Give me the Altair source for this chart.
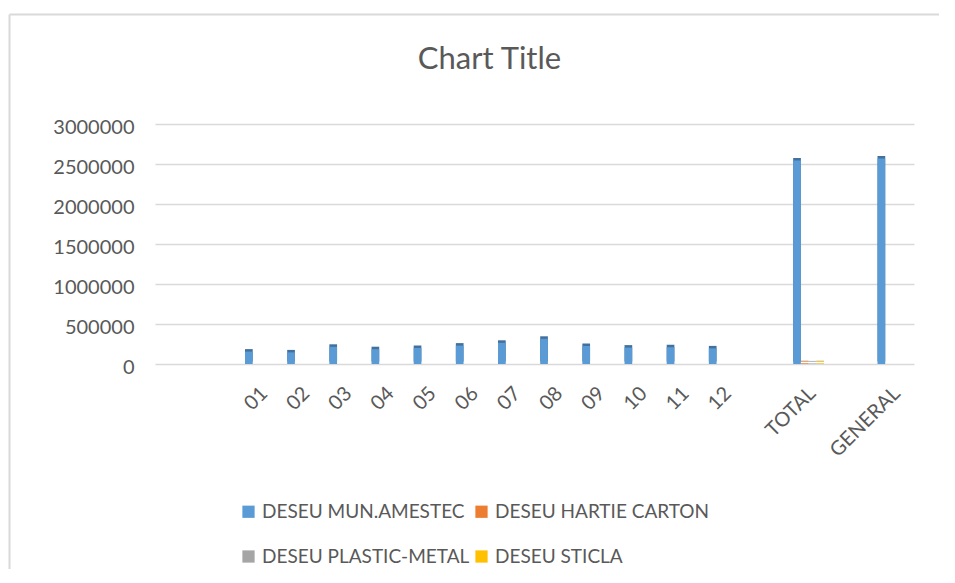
import altair as alt
import pandas as pd

categories = [" ", "  ", "01", "02", "03", "04", "05", "06", "07", "08", "09",
              "10", "11", "12", "   ", "TOTAL", "    ", "GENERAL"]
series = ["DESEU MUN.AMESTEC", "DESEU HARTIE CARTON", "DESEU PLASTIC-METAL", "DESEU STICLA"]

mun_amestec = [None, None, 155000, 145000, 215000, 185000, 200000, 230000, 265000, 315000,
               225000, 205000, 210000, 195000, None, 2545000, None, 2570000]
hartie_carton = [None, None, 0, 0, 0, 0, 0, 0, 0, 0, 0, 0, 0, 0, None, 9000, None, None]
plastic_metal = [None, None, 0, 0, 0, 0, 0, 0, 0, 0, 0, 0, 0, 0, None, 7000, None, None]
sticla = [None, None, 0, 0, 0, 0, 0, 0, 0, 0, 0, 0, 0, 0, None, 9000, None, None]

colors = ["#5B9BD5", "#ED7D31", "#A5A5A5", "#FFC000"]
dark_colors = ["#41719C", "#AE5A21", "#787878", "#BC8C00"]

rows = []
for s, vals in zip(series, [mun_amestec, hartie_carton, plastic_metal, sticla]):
    for c, v in zip(categories, vals):
        rows.append({"cat": c, "series": s, "value": v})
df = pd.DataFrame(rows)

FONT = "Lato"
TXT = "#595959"

x_enc = alt.X("cat:N", sort=categories,
              scale=alt.Scale(domain=categories, paddingInner=0.27, paddingOuter=0.135),
              axis=alt.Axis(title=None, labelAngle=-45, labelAlign="right", labelBaseline="middle",
                            labelFont=FONT, labelFontSize=20, labelColor=TXT, labelPadding=26,
                            labelOffset=4, ticks=False, domain=False, grid=False))
y_enc = alt.Y("value:Q",
              scale=alt.Scale(domain=[0, 3000000], nice=False),
              axis=alt.Axis(title=None, values=[0, 500000, 1000000, 1500000, 2000000, 2500000, 3000000],
                            format="d", labelFont=FONT, labelFontSize=20, labelColor=TXT,
                            labelPadding=21, labelOffset=3, ticks=False, domain=False, grid=True,
                            gridColor="#D9D9D9", gridWidth=1.5))
xoff = alt.XOffset("series:N", sort=series, scale=alt.Scale(domain=series))

base = alt.Chart(df).transform_filter("datum.value != null")

back = base.mark_bar(xOffset=2.5, yOffset=-2.5).encode(
    x=x_enc, y=y_enc, xOffset=xoff,
    color=alt.Color("series:N", scale=alt.Scale(domain=series, range=dark_colors), legend=None),
)

front = base.mark_bar().encode(
    x=x_enc, y=y_enc, xOffset=xoff,
    color=alt.Color("series:N", scale=alt.Scale(domain=series, range=colors),
                    legend=alt.Legend(title=None, orient="none", legendX=84, legendY=378,
                                      direction="horizontal", columns=2, columnPadding=2,
                                      rowPadding=25, padding=0, symbolType="square",
                                      symbolSize=150, symbolStrokeWidth=0, labelFont=FONT,
                                      labelFontSize=19, labelColor=TXT, labelOffset=4,
                                      labelLimit=400)),
)

frame_df = pd.DataFrame({"k": [0]})
frame_v = alt.Chart(frame_df).mark_rule(color="#D9D9D9", strokeWidth=2).encode(
    x=alt.value(-145.5), y=alt.value(-109.5), y2=alt.value(700))
frame_h = alt.Chart(frame_df).mark_rule(color="#D9D9D9", strokeWidth=2).encode(
    x=alt.value(-145.5), x2=alt.value(900), y=alt.value(-109.5))

chart = alt.layer(frame_v, frame_h, back, front).resolve_scale(color="independent").properties(
    width=759, height=240,
    autosize=alt.AutoSizeParams(type="none"),
    padding={"left": 147, "top": 116, "right": 25, "bottom": 205},
    background="white",
    title=alt.TitleParams("Chart Title", font=FONT, fontSize=31, fontWeight="normal",
                          color=TXT, anchor="middle", dx=-45, baseline="alphabetic",
                          offset=0, dy=86.5),
).configure_view(stroke=None)

chart.save("out.html", embed_options={"renderer": "svg", "actions": False})
